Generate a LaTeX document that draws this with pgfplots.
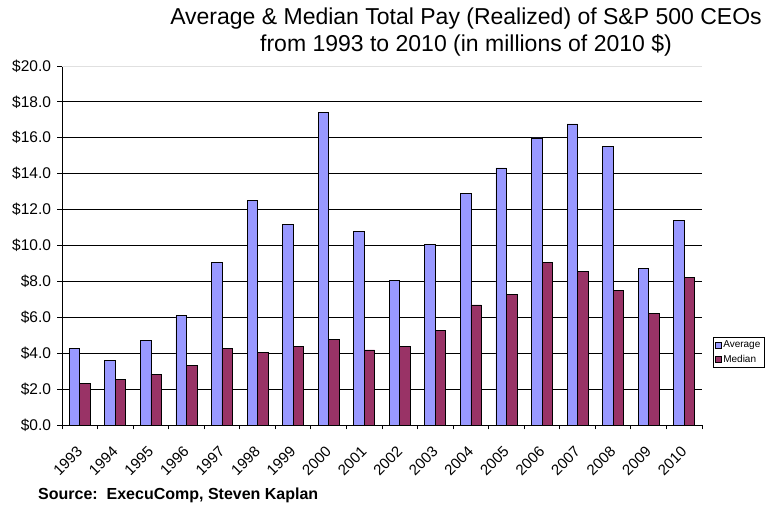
\documentclass[border=0pt]{standalone}
\usepackage{pgfplots}
\pgfplotsset{compat=1.18}
\usepackage{fontspec}
\setmainfont{Liberation Sans}
\definecolor{avgc}{HTML}{9999FF}
\definecolor{medc}{HTML}{993366}
\pgfplotsset{sqlegend/.style={legend image code/.code={\draw[##1, line width=0.5pt] (0pt,-3pt) rectangle (6pt,3pt);}}}
\begin{document}
\begin{tikzpicture}
\path[use as bounding box] (-62pt,-83pt) rectangle (710pt,425pt);
\begin{axis}[
  at={(0pt,0pt)}, anchor=south west,
  scale only axis, width=640pt, height=359pt,
  ybar=0pt, bar width=10.5pt,
  xmin=-0.5, xmax=17.5, ymin=0, ymax=20,
  axis x line*=bottom, axis y line*=left,
  axis line style={black, line width=0.8pt},
  every tick/.style={black, line width=0.8pt},
  tick align=outside, major tick length=4.5pt,
  xtick={-0.5,0.5,...,17.5}, xticklabels={},
  extra x ticks={0,1,...,17},
  extra x tick labels={1993,1994,1995,1996,1997,1998,1999,2000,2001,2002,2003,2004,2005,2006,2007,2008,2009,2010},
  extra x tick style={major tick length=0pt, xticklabel style={xshift=-4pt, yshift=-18.5pt, rotate=45, anchor=north east, inner sep=1pt, font=\fontsize{15}{18}\selectfont}},
  ytick={0,2,...,20},
  ymajorgrids, grid style={black, line width=0.8pt},
  /pgf/number format/assume math mode=true,
  yticklabel={\$\pgfmathprintnumber[fixed,fixed zerofill,precision=1]{\tick}},
  y tick label style={font=\fontsize{15.5}{18}\selectfont, xshift=-3pt},
  legend style={at={(axis description cs:1.0172,0.245)}, anchor=north west, draw=black, line width=0.6pt,
    font=\fontsize{10}{11.5}\selectfont, inner sep=1.5pt, row sep=2pt, cells={anchor=west}},
]
\addplot[fill=avgc, draw=black, line width=0.7pt, sqlegend]
  coordinates {(0,4.25) (1,3.60) (2,4.70) (3,6.11) (4,9.06) (5,12.52) (6,11.18) (7,17.42) (8,10.79) (9,8.06) (10,10.05) (11,12.91) (12,14.32) (13,15.99) (14,16.77) (15,15.54) (16,8.73) (17,11.42)};
\addplot[fill=medc, draw=black, line width=0.7pt, sqlegend]
  coordinates {(0,2.32) (1,2.52) (2,2.84) (3,3.30) (4,4.25) (5,4.05) (6,4.38) (7,4.77) (8,4.18) (9,4.38) (10,5.27) (11,6.69) (12,7.26) (13,9.06) (14,8.56) (15,7.52) (16,6.22) (17,8.23)};
\legend{Average, Median}
\draw[black!12, line width=0.8pt] (axis cs:-0.5,20) -- (axis cs:17.5,20);
\end{axis}
\node[anchor=base, inner sep=0pt, font=\fontsize{23}{27}\selectfont] at (404pt,400pt) {Average \& Median Total Pay (Realized) of S\&P 500 CEOs};
\node[anchor=base, inner sep=0pt, font=\fontsize{23}{27}\selectfont] at (404pt,373pt) {from 1993 to 2010 (in millions of 2010 \$)};
\node[anchor=base west, inner sep=0pt, font=\bfseries\fontsize{16}{19}\selectfont] at (-24pt,-75pt) {Source:\ \ ExecuComp, Steven Kaplan};
\end{tikzpicture}
\end{document}
